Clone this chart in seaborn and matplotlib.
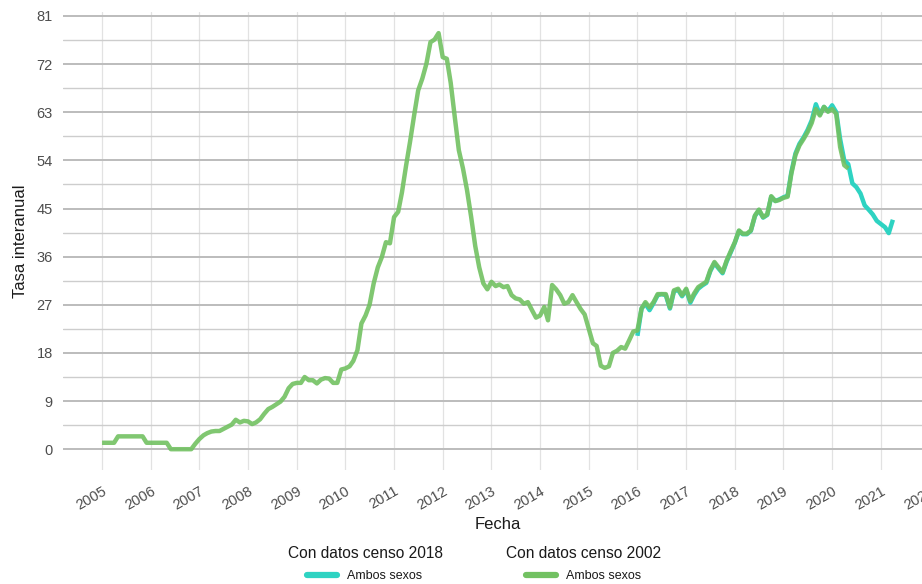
import matplotlib
matplotlib.use("Agg")
import matplotlib.pyplot as plt
import pandas as pd
import seaborn as sns
from matplotlib.lines import Line2D

# Monthly year-on-year rate, series computed with the 2002 census (Jan 2005 - May 2020)
tasa_censo_2002 = [
    # 2005
    1.2, 1.2, 1.2, 1.2, 2.4, 2.4, 2.4, 2.4, 2.4, 2.4, 2.4, 1.2,
    # 2006
    1.2, 1.2, 1.2, 1.2, 1.2, 0.0, 0.0, 0.0, 0.0, 0.0, 0.0, 1.0,
    # 2007
    1.9, 2.6, 3.0, 3.3, 3.4, 3.4, 3.8, 4.2, 4.6, 5.5, 5.0, 5.3,
    # 2008
    5.2, 4.7, 5.0, 5.6, 6.6, 7.5, 7.9, 8.4, 8.9, 9.8, 11.4, 12.2,
    # 2009
    12.4, 12.4, 13.5, 12.9, 12.9, 12.3, 13.0, 13.3, 13.2, 12.4, 12.4, 14.9,
    # 2010
    15.1, 15.5, 16.5, 18.5, 23.5, 25.0, 27.0, 31.0, 34.0, 35.9, 38.7, 38.5,
    # 2011
    43.4, 44.4, 48.0, 53.0, 57.5, 62.5, 67.1, 69.3, 72.1, 76.1, 76.6, 77.8,
    # 2012
    73.3, 73.0, 68.5, 62.0, 55.9, 52.5, 48.5, 43.5, 38.0, 34.0, 31.0, 29.9,
    # 2013
    31.3, 30.5, 30.8, 30.3, 30.5, 28.8, 28.2, 28.0, 27.2, 27.5, 26.0, 24.6,
    # 2014
    25.0, 26.6, 24.1, 30.7, 29.9, 28.8, 27.2, 27.5, 28.8, 27.5, 26.2, 25.2,
    # 2015
    22.5, 19.8, 19.3, 15.6, 15.2, 15.5, 18.0, 18.4, 19.1, 18.8, 20.4, 22.0,
    # 2016
    22.2, 26.3, 27.5, 26.5, 27.5, 29.0, 29.0, 29.0, 26.5, 29.7, 30.0, 28.8,
    # 2017
    30.0, 27.7, 29.1, 30.3, 30.8, 31.3, 33.5, 35.0, 34.0, 33.1, 35.3, 37.0,
    # 2018
    38.7, 40.9, 40.3, 40.3, 40.9, 43.7, 44.8, 43.4, 43.9, 47.3, 46.4, 46.6,
    # 2019
    47.0, 47.2, 51.5, 55.0, 56.8, 58.0, 59.3, 61.0, 63.6, 62.4, 64.0, 63.1,
    # 2020
    63.6, 62.7, 56.5, 53.1, 52.5,
]

# Same rate computed with the 2018 census (Jan 2016 - Apr 2021)
tasa_censo_2018 = [
    # 2016
    21.2, 26.3, 27.2, 26.0, 27.3, 28.8, 29.0, 28.8, 26.3, 29.5, 29.8, 28.6,
    # 2017
    29.8, 27.4, 28.8, 30.0, 30.6, 31.1, 33.3, 34.8, 33.8, 32.9, 35.1, 36.8,
    # 2018
    38.6, 40.8, 40.2, 40.2, 40.8, 43.6, 44.7, 43.3, 43.8, 47.2, 46.4, 46.7,
    # 2019
    47.1, 47.4, 51.8, 55.3, 57.1, 58.3, 59.7, 61.5, 64.5, 62.6, 64.0, 63.2,
    # 2020
    64.3, 63.0, 58.0, 54.0, 53.3, 49.7, 49.0, 47.8, 45.6, 44.8, 43.9, 42.7,
    # 2021
    42.1, 41.5, 40.4, 42.9,
]

inicio_2002 = "2005-01-01"
inicio_2018 = "2016-01-01"
anios = list(range(2005, 2023))
y_ticks = [0, 9, 18, 27, 36, 45, 54, 63, 72, 81]

color_2018 = "#2ed3c2"
color_2002 = "#72c162"

df_2002 = pd.DataFrame({
    "Fecha": pd.date_range(inicio_2002, periods=len(tasa_censo_2002), freq="MS"),
    "Tasa interanual": tasa_censo_2002,
})
df_2018 = pd.DataFrame({
    "Fecha": pd.date_range(inicio_2018, periods=len(tasa_censo_2018), freq="MS"),
    "Tasa interanual": tasa_censo_2018,
})

sns.set_theme(style="white")
plt.rcParams["font.family"] = ["Liberation Sans", "DejaVu Sans"]

W, H = 922, 584
fig = plt.figure(figsize=(W / 100, H / 100), dpi=100)
left, right, top, bottom = 62.5, 933.0, 12.3, 470.0
ax = fig.add_axes([left / W, 1 - bottom / H, (right - left) / W, (bottom - top) / H])

sns.lineplot(data=df_2018, x="Fecha", y="Tasa interanual", ax=ax,
             color=color_2018, lw=3.2, solid_capstyle="butt", legend=False, zorder=3)
sns.lineplot(data=df_2002, x="Fecha", y="Tasa interanual", ax=ax,
             color=color_2002, lw=3.2, alpha=0.9, solid_capstyle="butt", legend=False, zorder=4)

ax.set_xlim(pd.Timestamp("2004-03-10"), pd.Timestamp("2022-01-27"))
ax.set_ylim(-3.89, 81.69)

ax.set_yticks(y_ticks)
ax.set_yticks([v + 4.5 for v in y_ticks[:-1]], minor=True)
ax.set_xticks([pd.Timestamp(f"{a}-01-01") for a in anios])
ax.set_xticklabels([str(a) for a in anios], rotation=30, ha="right",
                   rotation_mode="anchor")

ax.grid(False)
ax.yaxis.grid(True, which="major", color="#bcbcbc", lw=1.4)
ax.yaxis.grid(True, which="minor", color="#cdcdcd", lw=1.0)
ax.xaxis.grid(True, which="major", color="#e2e2e2", lw=0.9)
ax.set_axisbelow(True)
for s in ax.spines.values():
    s.set_visible(False)

ax.tick_params(axis="both", which="both", length=0, labelsize=10.5, colors="#4d4d4d")
ax.tick_params(axis="x", pad=10)
ax.tick_params(axis="y", pad=7)

ax.set_xlabel("Fecha", fontsize=12, color="#1a1a1a", labelpad=3)
ax.set_ylabel("Tasa interanual", fontsize=12, color="#1a1a1a", labelpad=6)

legend_kw = dict(loc="center", frameon=False, fontsize=9, title_fontsize=11.2,
                 handlelength=2.4, handletextpad=0.8, borderpad=0, labelspacing=0.75)
leg1 = fig.legend(handles=[Line2D([], [], color=color_2018, lw=4.5)], labels=["Ambos sexos"],
                  title="Con datos censo 2018", bbox_to_anchor=(365 / W, 1 - 564 / H), **legend_kw)
leg2 = fig.legend(handles=[Line2D([], [], color=color_2002, lw=4.5)], labels=["Ambos sexos"],
                  title="Con datos censo 2002", bbox_to_anchor=(584 / W, 1 - 564 / H), **legend_kw)
for lg in (leg1, leg2):
    lg.get_title().set_color("#1a1a1a")
    for t in lg.get_texts():
        t.set_color("#1a1a1a")

fig.savefig("out.png", dpi=100)
